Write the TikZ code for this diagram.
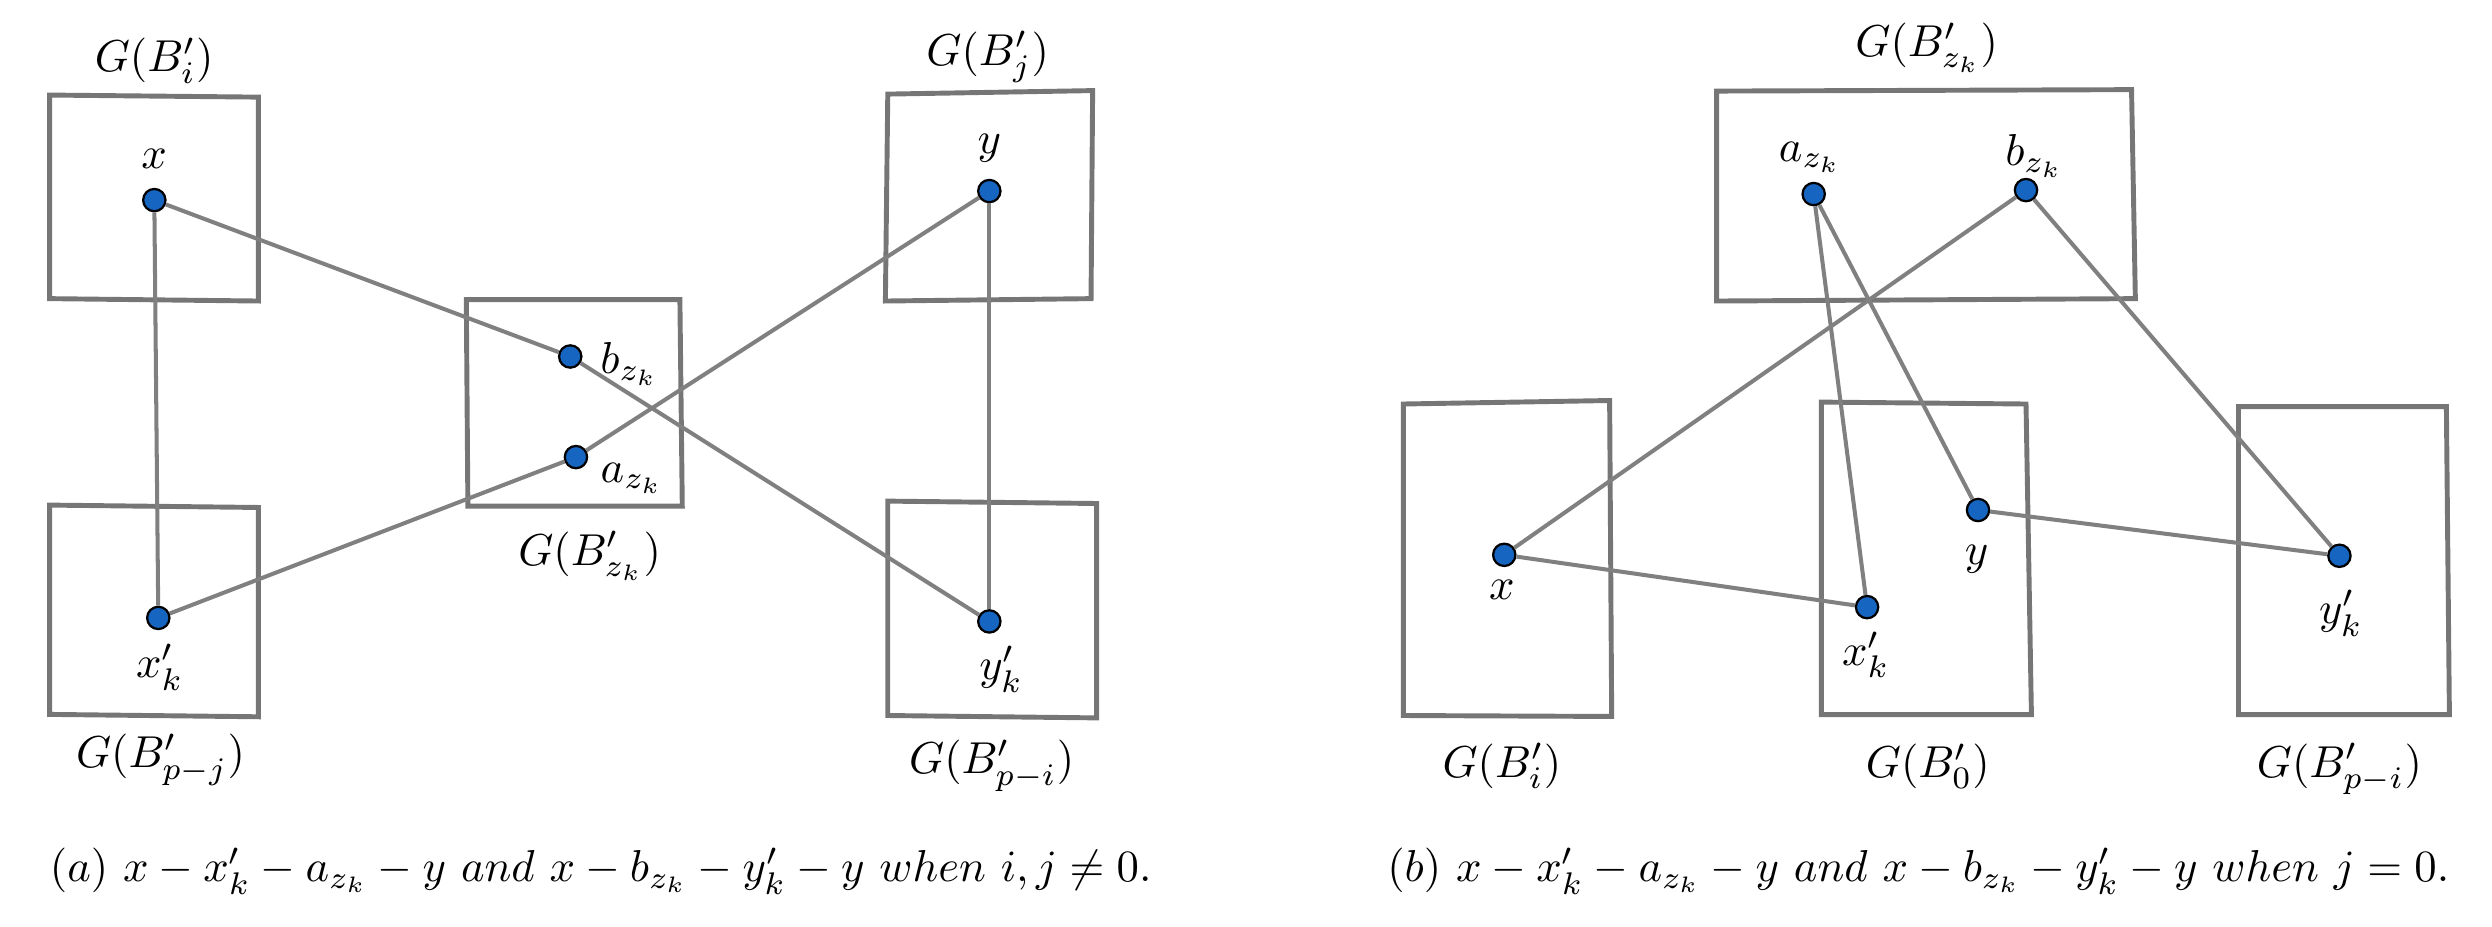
\documentclass[tikz,border=0pt]{standalone}
\definecolor{dotblue}{RGB}{22,101,192}
\definecolor{linegray}{RGB}{128,128,128}
\definecolor{boxgray}{RGB}{118,118,118}
\tikzset{
  vtx/.style={circle, fill=dotblue, draw=black, line width=0.5pt, inner sep=0pt, minimum size=5pt},
  link/.style={draw=linegray, line width=0.9pt},
  frame/.style={draw=boxgray, line width=1.1pt, line join=miter},
  lbl/.style={inner sep=0pt, font=\fontsize{10}{12}\selectfont},
  captext/.style={inner sep=0pt, font=\fontsize{10}{12}\selectfont}
}
\begin{document}
\begin{tikzpicture}[x=0.0125cm, y=-0.0125cm]
\useasboundingbox (0,0) rectangle (1568,583);
% ---------- panel (a) boxes ----------
\draw[frame] (31.2,59.8) -- (162.6,61.1) -- (162.6,189.4) -- (31.2,187.9) -- cycle;
\draw[frame] (31.2,317.8) -- (162.6,319.3) -- (162.6,451) -- (31.2,449.5) -- cycle;
\draw[frame] (293.4,188.5) -- (427.8,188.5) -- (429.3,318.4) -- (294.4,318.4) -- cycle;
\draw[frame] (558.6,59.2) -- (687.5,57) -- (686.5,187.9) -- (557.1,189.4) -- cycle;
\draw[frame] (558.6,315.3) -- (690,316.8) -- (690,451.7) -- (558.6,450.2) -- cycle;
% labels (a)
\node[lbl] (lBi) at (97,38) {$G(B'_i)$};
\node[lbl] (lBpj) at (101,478) {$G(B'_{p-j})$};
\node[lbl] (lBz) at (371,350) {$G(B'_{z_k})$};
\node[lbl] (lBj) at (621.5,36) {$G(B'_j)$};
\node[lbl] (lBpi) at (624,482) {$G(B'_{p-i})$};
% vertices (a)
\node[vtx] (ax) at (97.1,125.9) {};
\node[vtx] (axk) at (99.6,388.8) {};
\node[vtx] (ab) at (358.8,224.3) {};
\node[vtx] (aa) at (362.4,287.6) {};
\node[vtx] (ay) at (622.5,120.2) {};
\node[vtx] (ayk) at (622.5,391) {};
\node[lbl] at (97,100) {$x$};
\node[lbl] at (100.6,420) {$x'_k$};
\node[lbl] at (396,229) {$b_{z_k}$};
\node[lbl] at (397.6,301) {$a_{z_k}$};
\node[lbl] at (622.5,93) {$y$};
\node[lbl] at (630,421) {$y'_k$};
% edges (a)
\draw[link] (ax) -- (axk);
\draw[link] (ax) -- (ab);
\draw[link] (ab) -- (ayk);
\draw[link] (ay) -- (aa);
\draw[link] (aa) -- (axk);
\draw[link] (ay) -- (ayk);
% ---------- panel (b) boxes ----------
\draw[frame] (1080.1,57.3) -- (1341.2,56.4) -- (1343.6,187.9) -- (1080.1,189.4) -- cycle;
\draw[frame] (883,254.2) -- (1012.8,252) -- (1014.1,450.8) -- (883,450.2) -- cycle;
\draw[frame] (1146,253) -- (1274.8,254.2) -- (1278.2,449.6) -- (1146,449.6) -- cycle;
\draw[frame] (1408.5,255.8) -- (1539.3,255.8) -- (1541.2,449.6) -- (1408.5,449.6) -- cycle;
% labels (b)
\node[lbl] (lBzb) at (1212.3,30) {$G(B'_{z_k})$};
\node[lbl] (lBib) at (945,482) {$G(B'_i)$};
\node[lbl] (lB0b) at (1213,482) {$G(B'_0)$};
\node[lbl] (lBpib) at (1472,484) {$G(B'_{p-i})$};
% vertices (b)
\node[vtx] (ba) at (1141.2,122.1) {};
\node[vtx] (bb) at (1274.8,119.6) {};
\node[vtx] (bx) at (946.5,349.1) {};
\node[vtx] (bxk) at (1174.8,382) {};
\node[vtx] (by) at (1244.6,320.9) {};
\node[vtx] (byk) at (1472,349.7) {};
\node[lbl] at (1139,99) {$a_{z_k}$};
\node[lbl] at (1280,98) {$b_{z_k}$};
\node[lbl] at (945,371) {$x$};
\node[lbl] at (1174,412) {$x'_k$};
\node[lbl] at (1243.7,352) {$y$};
\node[lbl] at (1473,386) {$y'_k$};
% edges (b)
\draw[link] (bx) -- (bb);
\draw[link] (bx) -- (bxk);
\draw[link] (ba) -- (bxk);
\draw[link] (ba) -- (by);
\draw[link] (by) -- (byk);
\draw[link] (bb) -- (byk);
% captions
\node[captext] (capa) at (378,548) {$(a)\ x - x'_k - a_{z_k} - y\ and\ x - b_{z_k} - y'_k - y\ when\ i, j \neq 0.$};
\node[captext] (capb) at (1207,548) {$(b)\ x - x'_k - a_{z_k} - y\ and\ x - b_{z_k} - y'_k - y\ when\ j = 0.$};
\end{tikzpicture}
\end{document}
